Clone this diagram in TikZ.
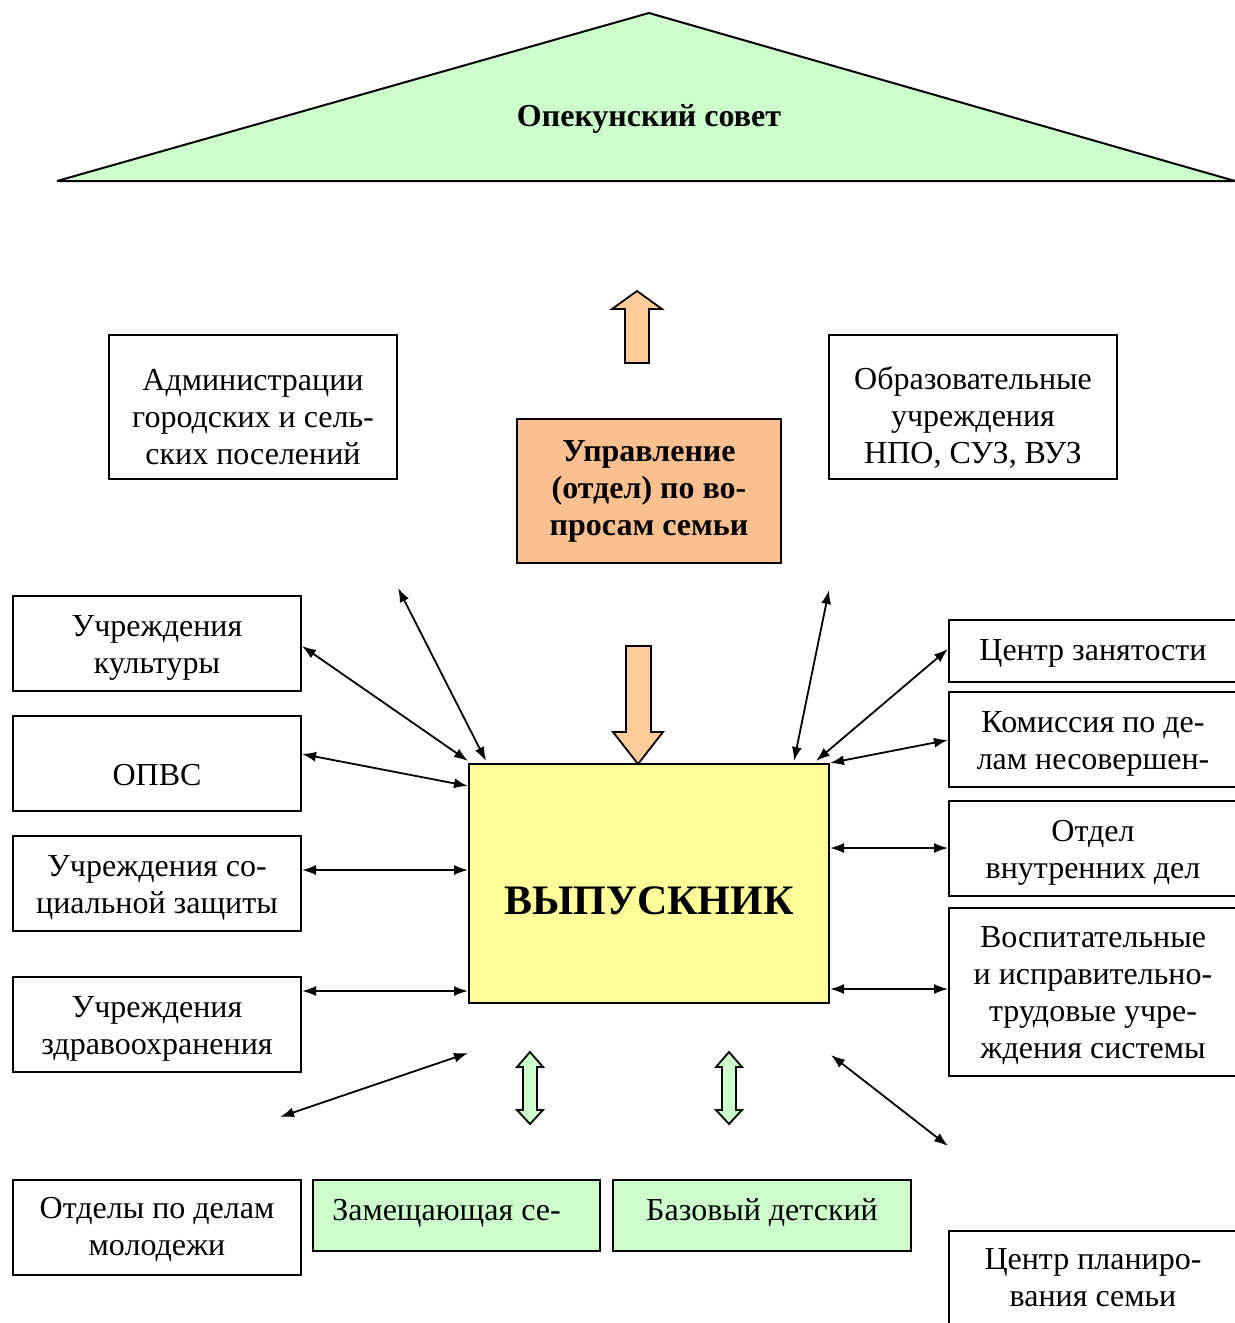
\documentclass[tikz,border=0pt]{standalone}
\usepackage{fontspec}
\setmainfont{Liberation Serif}
\usetikzlibrary{arrows.meta}

\definecolor{paleGreen}{HTML}{CCFFCC}
\definecolor{paleOrange}{HTML}{FAC090}
\definecolor{arrOrange}{HTML}{FFCC99}
\definecolor{paleYellow}{HTML}{FFFF99}

% text of a box, lowered by #1 inside its frame
\newcommand\boxtext[2][2pt]{\raisebox{-#1}[\height][\depth]{\begin{tabular}{@{}c@{}}#2\end{tabular}}}

\begin{document}
\begin{tikzpicture}[x=0.5pt, y=-0.5pt,
	txt/.style={font=\fontsize{16}{18.5}\selectfont, inner sep=0pt},
	box/.style={txt, draw, line width=1pt, rectangle, minimum width=144pt, minimum height=47.5pt},
	tall/.style={box, minimum height=72pt},
	link/.style={<->, >={Latex[length=7pt,width=5pt]}, line width=0.9pt},
	blockarr/.style={draw, line width=0.9pt, line join=miter}]
	\useasboundingbox (0,0) rectangle (1235,1323);
	\clip (0,0) rectangle (1235,1323);

	% roof
	\draw [fill=paleGreen, line width=1pt, line join=bevel] (57,181) -- (649,13) -- (1235,181) -- cycle;
	\node [txt, font=\fontsize{16}{18.5}\selectfont\bfseries] (Sovet) at (649,119) {Опекунский совет};

	\node [tall] (Adm) at (253,407) {\boxtext[6.5pt]{Администрации\\городских и сель-\\ских поселений}};
	\node [tall] (Obr) at (973,407) {\boxtext[6pt]{Образовательные\\учреждения\\НПО, СУЗ, ВУЗ}};
	\node [tall, minimum width=132pt, fill=paleOrange, font=\fontsize{16}{18.5}\selectfont\bfseries] (Upr) at (649,491) {\boxtext[0pt]{Управление\\(отдел) по во-\\просам семьи}};

	\node [box, minimum width=180pt, minimum height=119.5pt, fill=paleYellow, font=\fontsize{21}{26}\selectfont\bfseries] (Vyp) at (649,883.5) {\boxtext[10.5pt]{ВЫПУСКНИК}};

	\node [box] (Kult) at (157,643.5) {\boxtext{Учреждения\\культуры}};
	\node [box] (Opvs) at (157,763.5) {\boxtext[7.5pt]{ОПВС}};
	\node [box] (Soc) at (157,883.5) {\boxtext{Учреждения со-\\циальной защиты}};
	\node [box] (Zdr) at (157,1024.5) {\boxtext{Учреждения\\здравоохранения}};
	\node [box] (Mol) at (157,1227.5) {\boxtext[1pt]{Отделы по делам\\молодежи}};

	\node [box, minimum height=31pt] (Zan) at (1093,651) {\boxtext[1pt]{Центр занятости}};
	\node [box] (Kom) at (1093,739.5) {\boxtext{Комиссия по де-\\лам несовершен-}};
	\node [box] (Ovd) at (1093,848.5) {\boxtext{Отдел\\внутренних дел}};
	\node [box, minimum height=84pt] (Vosp) at (1093,992) {\boxtext{Воспитательные\\и исправительно-\\трудовые учре-\\ждения системы}};
	\node [box] (Plan) at (1093,1278.5) {\boxtext[1pt]{Центр планиро-\\вания семьи}};

	\node [box, minimum width=143.5pt, minimum height=35.5pt, fill=paleGreen] (Zam) at (456.5,1215.5) {\boxtext[-1pt]{Замещающая се-\hspace*{10pt}}};
	\node [box, minimum width=149pt, minimum height=35.5pt, fill=paleGreen] (Baz) at (762,1215.5) {\boxtext[-1pt]{Базовый детский}};

	% block arrows
	\draw [blockarr, fill=arrOrange] (625,363) -- (625,309) -- (612,309) -- (637,291) -- (662,309) -- (649,309) -- (649,363) -- cycle;
	\draw [blockarr, fill=arrOrange] (626,646) -- (651,646) -- (651,732) -- (663,732) -- (638,764) -- (613,732) -- (626,732) -- cycle;
	\draw [blockarr, fill=paleGreen] (530,1052) -- (543,1067) -- (537,1067) -- (537,1110) -- (543,1110) -- (530,1124) -- (517,1110) -- (523,1110) -- (523,1067) -- (517,1067) -- cycle;
	\draw [blockarr, fill=paleGreen] (729,1052) -- (742,1067) -- (736,1067) -- (736,1110) -- (742,1110) -- (729,1124) -- (716,1110) -- (722,1110) -- (722,1067) -- (716,1067) -- cycle;

	% free ends
	\coordinate (fA) at (398,588);
	\coordinate (fB) at (280,1117);
	\coordinate (fC) at (468,1053);
	\coordinate (fD) at (829,590);
	\coordinate (fE) at (831,1055);
	\coordinate (fF) at (948,1146);

	\draw [link] (fA) -- ([xshift=9pt,yshift=1pt]Vyp.north west);
	\draw [link] ([yshift=-25.5pt]Kult.north east) -- ([yshift=1pt]Vyp.north west);
	\draw [link] ([yshift=-19.5pt]Opvs.north east) -- ([yshift=-11.5pt]Vyp.north west);
	\draw [link] ([yshift=-17.5pt]Soc.north east) -- ([yshift=-53.5pt]Vyp.north west);
	\draw [link] ([yshift=-7.5pt]Zdr.north east) -- ([yshift=-114pt]Vyp.north west);
	\draw [link] (fB) -- (fC);
	\draw [link] (fD) -- ([xshift=-18pt,yshift=1pt]Vyp.north east);
	\draw [link] ([yshift=-15pt]Zan.north west) -- ([xshift=-7pt,yshift=1pt]Vyp.north east);
	\draw [link] ([yshift=-24.5pt]Kom.north west) -- (Vyp.north east);
	\draw [link] ([yshift=-42.5pt]Vyp.north east) -- ([yshift=-24pt]Ovd.north west);
	\draw [link] ([yshift=-113pt]Vyp.north east) -- ([yshift=-41pt]Vosp.north west);
	\draw [link] (fE) -- (fF);
\end{tikzpicture}
\end{document}
